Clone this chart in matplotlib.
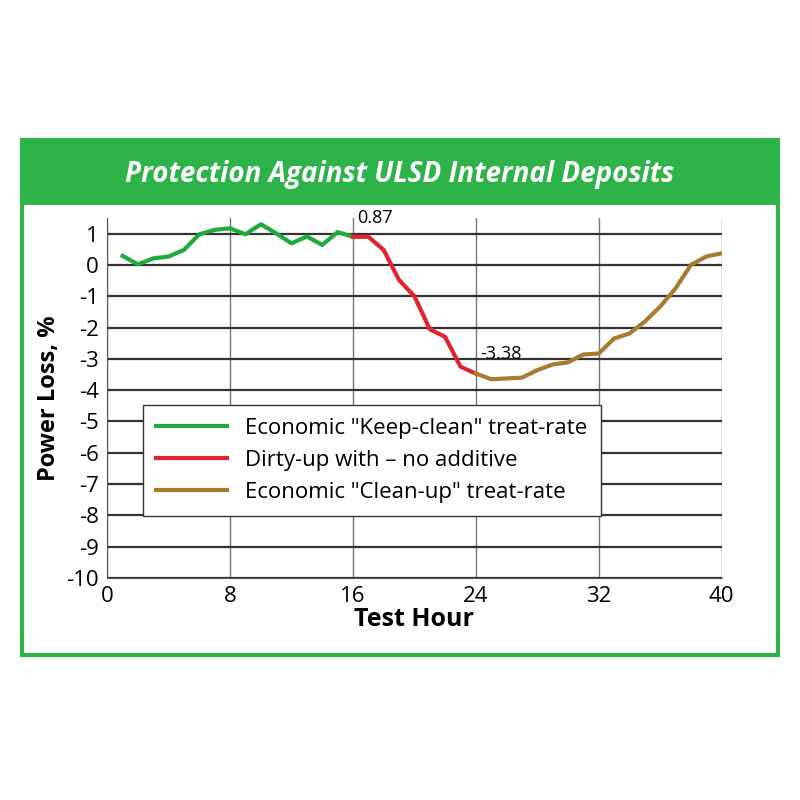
import matplotlib
matplotlib.use('Agg')
import matplotlib.pyplot as plt
from matplotlib.patches import Rectangle

# ── Data ──────────────────────────────────────────────────────────────────────
green_x = [1, 2, 3, 4, 5, 6, 7, 8, 9, 10, 11, 12, 13, 14, 15, 16]
green_y = [0.29, 0.02, 0.21, 0.27, 0.48, 0.98, 1.12, 1.17, 0.98, 1.30, 1.01, 0.69, 0.91, 0.64, 1.05, 0.90]
red_x = [16, 17, 18, 19, 20, 21, 22, 23, 24]
red_y = [0.90, 0.90, 0.48, -0.48, -1.0, -2.05, -2.3, -3.25, -3.47]
brown_x = [24, 25, 27, 28, 29, 30, 31, 32, 33, 34, 35, 36, 37, 38, 39, 40]
brown_y = [-3.47, -3.65, -3.6, -3.36, -3.18, -3.11, -2.86, -2.83, -2.35, -2.19, -1.81, -1.33, -0.75, 0.0, 0.27, 0.37]
labels = ['Economic "Keep-clean" treat-rate', 'Dirty-up with \u2013 no additive',
          'Economic "Clean-up" treat-rate']
GREEN, RED, BROWN = '#1faa3c', '#e0242f', '#a87b32'

plt.rcParams['font.family'] = ['Liberation Sans Narrow', 'Open Sans', 'DejaVu Sans']

fig = plt.figure(figsize=(8, 8), dpi=100)
# outer frame and title band
fig.patches.append(Rectangle((0.027, 0.181), 0.946, 0.644, transform=fig.transFigure,
                             fill=False, ec='#2db34a', lw=3))
fig.patches.append(Rectangle((0.027, 0.744), 0.946, 0.081, transform=fig.transFigure,
                             fc='#2db34a', ec='none'))
fig.text(0.5, 0.782, 'Protection Against ULSD Internal Deposits', ha='center', va='center',
         color='white', fontsize=20, fontweight='bold', style='italic', family='Open Sans')

ax = fig.add_axes([0.134, 0.2775, 0.768, 0.45])
ax.plot(green_x, green_y, color=GREEN, lw=3)
ax.plot(red_x, red_y, color=RED, lw=3)
ax.plot(brown_x, brown_y, color=BROWN, lw=3)
ax.set_xlim(0, 40)
ax.set_ylim(-10, 1.5)
ax.set_xticks([0, 8, 16, 24, 32, 40])
ax.set_yticks(range(-10, 2))
ax.set_yticklabels([str(v) for v in range(-10, 2)])
ax.grid(axis='y', color='#333333', lw=1.6)
ax.grid(axis='x', color='#777777', lw=1)
for s in ['top', 'right']:
    ax.spines[s].set_visible(False)
ax.spines['left'].set_color('#555555')
ax.spines['bottom'].set_color('#555555')
ax.tick_params(length=0, labelsize=16, pad=6)
ax.set_xlabel('Test Hour', fontsize=18, fontweight='bold', labelpad=0)
ax.set_ylabel('Power Loss, %', fontsize=17, fontweight='bold', labelpad=4)
ax.annotate('0.87', (16, 0.87), xytext=(16.3, 1.35), fontsize=13)
ax.annotate('-3.38', (24, -3.38), xytext=(24.3, -3.0), fontsize=13)
leg = ax.legend(labels, loc='lower left', bbox_to_anchor=(0.04, 0.14), fontsize=16,
                frameon=True, fancybox=False, edgecolor='#333333', framealpha=1,
                handlelength=3.2, borderpad=0.6, labelspacing=0.5)
for line in leg.get_lines():
    line.set_linewidth(3)

fig.savefig('out.png', dpi=100)
